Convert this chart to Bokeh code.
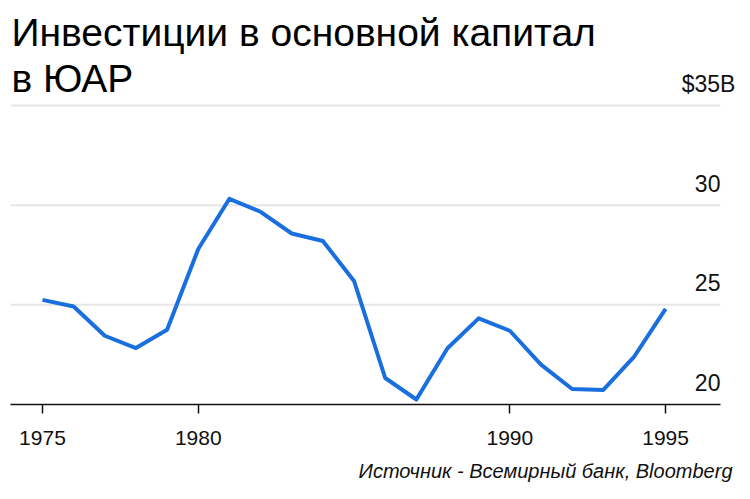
from bokeh.plotting import figure
from bokeh.models import FixedTicker, Label, ColumnDataSource, Range1d, Title
from bokeh.embed import file_html
from bokeh.resources import INLINE
from bokeh.core.properties import value

# ---- data ----
years = list(range(1975, 1996))
invest = [25.25, 24.92, 23.45, 22.83, 23.75, 27.8, 30.32, 29.67, 28.58, 28.2,
          26.2, 21.33, 20.25, 22.82, 24.32, 23.7, 22.0, 20.78, 20.73, 22.42, 24.8]
x_ticks = [1975, 1980, 1990, 1995]
y_ticks = [20, 25, 30, 35]
y_labels = ["20", "25", "30", "$35B"]
title_lines = ["Инвестиции в основной капитал", "в ЮАР"]
source_text = "Источник - Всемирный банк, Bloomberg"

FONT = "Liberation Sans"
X0, X1 = 1973.974, 1997.468
GRID_END = 1996.76

p = figure(width=742, height=491, output_backend="svg", toolbar_location=None,
           x_range=Range1d(X0, X1), y_range=Range1d(20, 40.27),
           y_axis_location=None, min_border_left=10, min_border_right=0,
           min_border_top=0, min_border_bottom=87)
p.outline_line_color = None
p.background_fill_color = "white"
p.border_fill_color = "white"
p.xgrid.visible = False
p.ygrid.visible = False

# gridlines (except baseline)
gy = [t for t in y_ticks if t != y_ticks[0]]
p.segment(x0=[X0] * len(gy), x1=[GRID_END] * len(gy), y0=gy, y1=gy,
          line_color="#e6e6e6", line_width=2)

# line
p.line(years, invest, line_color="#1a6fdf", line_width=4, line_join="round")

# y labels
num_src = ColumnDataSource(dict(x=[GRID_END] * 3, y=y_ticks[:3], t=y_labels[:3]))
p.text(x="x", y="y", text="t", source=num_src, text_align="right",
       text_baseline="alphabetic", y_offset=-22, text_font=value(FONT),
       text_font_size="23px", text_color="#111111")
top_src = ColumnDataSource(dict(x=[GRID_END], y=[y_ticks[3]], t=[y_labels[3]]))
p.text(x="x", y="y", text="t", source=top_src, text_align="right",
       text_baseline="alphabetic", y_offset=-22, x_offset=15, text_font=value(FONT),
       text_font_size="23px", text_color="#111111")

# x axis
ax = p.xaxis[0]
ax.ticker = FixedTicker(ticks=x_ticks)
ax.bounds = (X0, GRID_END)
ax.axis_line_color = "#111111"
ax.axis_line_width = 1.5
ax.major_tick_line_color = "#111111"
ax.major_tick_line_width = 1.5
ax.major_tick_in = 0
ax.major_tick_out = 9
ax.minor_tick_line_color = None
ax.major_label_text_font = FONT
ax.major_label_text_font_size = "21px"
ax.major_label_text_color = "#111111"
ax.major_label_standoff = 17
# invisible spacer label pushing the source line down
ax.axis_label = " "
ax.axis_label_standoff = 0
ax.axis_label_text_font_size = "7px"

# title
p.add_layout(Label(x=1, y=371.7, x_units="screen", y_units="screen", text=title_lines[0],
                   text_font=FONT, text_font_size="39px", text_color="black",
                   text_baseline="alphabetic"))
p.add_layout(Label(x=1, y=325.7, x_units="screen", y_units="screen", text=title_lines[1],
                   text_font=FONT, text_font_size="39px", text_color="black",
                   text_baseline="alphabetic"))
# source
p.add_layout(Title(text=source_text, align="right", text_font=FONT, text_font_size="20px",
                   text_font_style="italic", text_color="#111111", standoff=0,
                   offset=10), "below")

open("out.html", "w").write(file_html(p, INLINE))
